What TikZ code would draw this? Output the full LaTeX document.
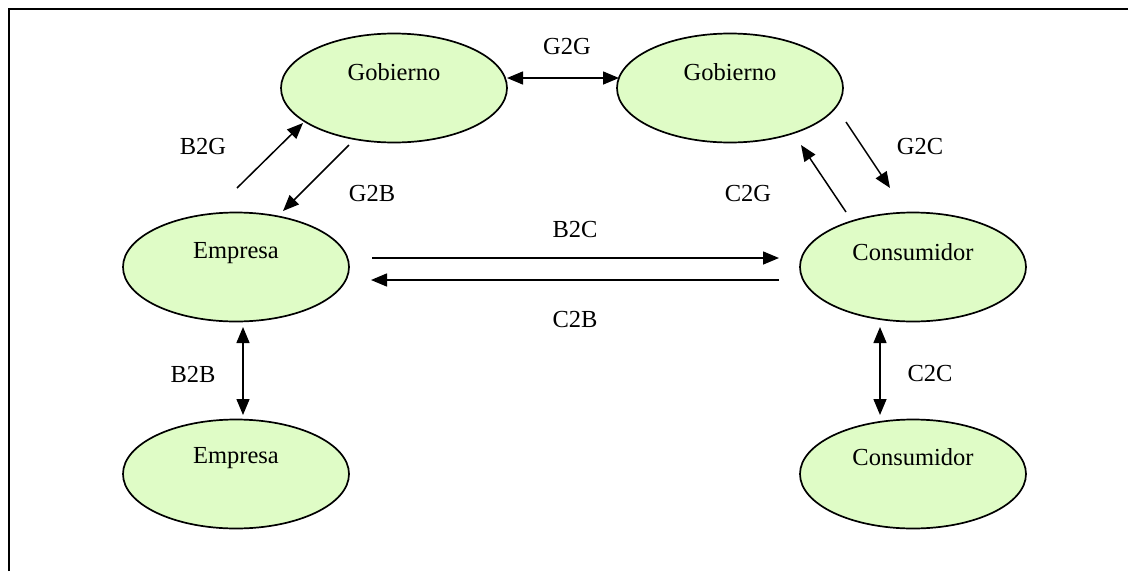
\documentclass[tikz,border=0pt]{standalone}
\usepackage{fontspec}
\setmainfont{Liberation Serif}
\usetikzlibrary{shapes.geometric,arrows.meta}
\definecolor{cellfill}{RGB}{223,252,198}
\tikzset{
  actor/.style={ellipse,draw=black,line width=1.7pt,fill=cellfill,
    minimum width=226pt,minimum height=109pt,inner sep=0pt},
  actortext/.style={font=\fontsize{24.5}{28}\selectfont,inner sep=0pt},
  flowlabel/.style={font=\fontsize{24.5}{28}\selectfont,inner sep=0pt},
  head/.style={Triangle[length=16pt,width=13pt]},
  flow/.style={line width=1.5pt,-{Triangle[length=16pt,width=13pt]}},
  twoway/.style={line width=1.5pt,{Triangle[length=16pt,width=13pt]}-{Triangle[length=16pt,width=13pt]}},
}
\begin{document}
\begin{tikzpicture}[x=1pt,y=-1pt]
  \useasboundingbox (0,0) rectangle (1128,571);
  % open frame: top and left rules only
  \draw[line width=1.8pt] (9,571) -- (9,9) -- (1128,9);

  % actors
  \node[actor] (gobA) at (394,88) {};
  \node[actor] (gobB) at (730,88) {};
  \node[actor] (empA) at (236,267) {};
  \node[actor] (empB) at (236,474) {};
  \node[actor] (conA) at (913,267) {};
  \node[actor] (conB) at (913,474) {};

  \node[actortext] (tGobA) at ([yshift=16pt]gobA.center) {Gobierno};
  \node[actortext] (tGobB) at ([yshift=16pt]gobB.center) {Gobierno};
  \node[actortext] (tEmpA) at ([yshift=14pt]empA.center) {Empresa};
  \node[actortext] (tEmpB) at ([yshift=16pt]empB.center) {Empresa};
  \node[actortext] (tConA) at ([yshift=15pt]conA.center) {Consumidor};
  \node[actortext] (tConB) at ([yshift=17pt]conB.center) {Consumidor};

  % connector ends
  \coordinate (b2gS) at (237,188);
  \coordinate (b2gE) at (303,123);
  \coordinate (g2bS) at (349,145);
  \coordinate (g2bE) at (283,211);
  \coordinate (b2cS) at (372,258);
  \coordinate (b2cE) at (779,258);
  \coordinate (c2bS) at (779,280);
  \coordinate (c2bE) at (371,280);
  \coordinate (c2gS) at (846,212);
  \coordinate (c2gE) at (801,145);
  \coordinate (g2cS) at (846,122);
  \coordinate (g2cE) at (890,188);
  \coordinate (b2bS) at (243,327);
  \coordinate (b2bE) at (243,415);
  \coordinate (c2cS) at (880,327);
  \coordinate (c2cE) at (880,415);
  \coordinate (g2gS) at (507,78);
  \coordinate (g2gE) at (619,78);

  % flows
  \draw[twoway] (g2gS) -- (g2gE);
  \draw[flow] (b2gS) -- (b2gE);
  \draw[flow] (g2bS) -- (g2bE);
  \draw[flow] (b2cS) -- (b2cE);
  \draw[flow] (c2bS) -- (c2bE);
  \draw[flow] (c2gS) -- (c2gE);
  \draw[flow] (g2cS) -- (g2cE);
  \draw[twoway] (b2bS) -- (b2bE);
  \draw[twoway] (c2cS) -- (c2cE);

  % flow labels
  \node[flowlabel] (lG2G) at (567,47) {G2G};
  \node[flowlabel] (lB2G) at (203,147) {B2G};
  \node[flowlabel] (lG2B) at (372,194) {G2B};
  \node[flowlabel] (lB2C) at (575,230) {B2C};
  \node[flowlabel] (lC2B) at (575,320) {C2B};
  \node[flowlabel] (lC2G) at (748,194) {C2G};
  \node[flowlabel] (lG2C) at (920,147) {G2C};
  \node[flowlabel] (lB2B) at (193,374) {B2B};
  \node[flowlabel] (lC2C) at (930,374) {C2C};
\end{tikzpicture}
\end{document}
